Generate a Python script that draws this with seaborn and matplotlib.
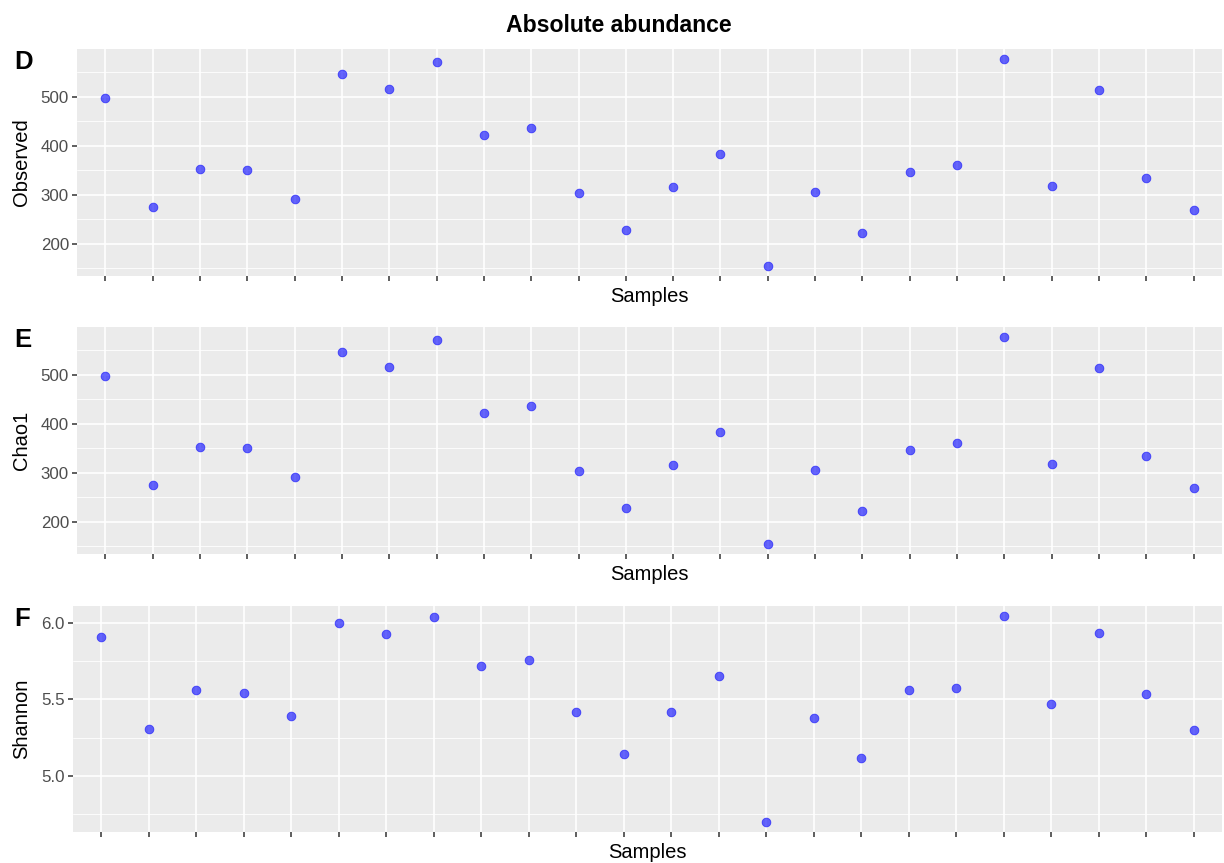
import numpy as np
import pandas as pd
import matplotlib
matplotlib.use("Agg")
import matplotlib.pyplot as plt
import seaborn as sns
from matplotlib.ticker import MultipleLocator

samples = [f"S{i:02d}" for i in range(1, 25)]

observed = [498, 274, 352, 350, 291, 546, 516, 571, 422, 435, 304, 227,
            316, 382, 155, 306, 222, 347, 361, 576, 318, 513, 334, 268]
chao1 = [498, 274, 352, 350, 291, 546, 516, 571, 422, 435, 304, 227,
         316, 382, 155, 306, 222, 347, 361, 576, 318, 513, 334, 268]
shannon = [5.910, 5.306, 5.561, 5.540, 5.392, 6.000, 5.924, 6.035, 5.720, 5.759,
           5.414, 5.141, 5.414, 5.653, 4.700, 5.375, 5.117, 5.560, 5.571, 6.043,
           5.470, 5.932, 5.535, 5.297]

panels = [
    ("D", "Observed", observed, [200, 300, 400, 500], ["200", "300", "400", "500"], 50),
    ("E", "Chao1", chao1, [200, 300, 400, 500], ["200", "300", "400", "500"], 50),
    ("F", "Shannon", shannon, [5.0, 5.5, 6.0], ["5.0", "5.5", "6.0"], 0.25),
]

sns.set_theme(style="darkgrid")
plt.rcParams["font.family"] = ["Liberation Sans", "DejaVu Sans"]
plt.rcParams["text.color"] = "black"

W, H = 1224, 863
fig = plt.figure(figsize=(W / 100, H / 100), dpi=100)

# panel boxes in pixels: left, top, right, bottom
boxes = [
    (77, 49, 1222, 276),
    (77, 327, 1222, 554),
    (73, 606, 1222, 832),
]

for (letter, ylab, vals, yt, ytl, minor), (l, t, r, b) in zip(panels, boxes):
    ax = fig.add_axes([l / W, 1 - b / H, (r - l) / W, (b - t) / H])
    df = pd.DataFrame({"Samples": samples, "value": vals})
    sns.stripplot(data=df, x="Samples", y="value", ax=ax, jitter=False,
                  color="#0000FF", alpha=0.6, size=6.3, linewidth=0.6,
                  edgecolor="#0000FF", zorder=3)
    ax.set_facecolor("#EBEBEB")
    for s in ax.spines.values():
        s.set_visible(False)
    lo, hi = min(vals), max(vals)
    pad = (hi - lo) * 0.05
    ax.set_ylim(lo - pad, hi + pad)
    ax.set_xlim(-0.6, len(samples) - 0.4)
    ax.set_yticks(yt)
    ax.set_yticklabels(ytl)
    ax.yaxis.set_minor_locator(MultipleLocator(minor))
    ax.set_xticks(range(len(samples)))
    ax.set_xticklabels([])
    ax.grid(which="major", color="white", linewidth=1.2, zorder=0)
    ax.grid(which="minor", axis="y", color="white", linewidth=0.6, zorder=0)
    ax.grid(which="minor", axis="x", visible=False)
    ax.set_axisbelow(True)
    ax.tick_params(axis="both", which="major", length=3.8, width=1.1,
                   color="#333333", labelsize=12.2, labelcolor="#4D4D4D", pad=2,
                   bottom=True, left=True)
    ax.tick_params(axis="both", which="minor", length=0)
    ax.set_ylabel(ylab, fontsize=14.5, color="black")
    ax.yaxis.set_label_coords((22 - l) / (r - l), 0.5)
    ax.yaxis.label.set_verticalalignment("center")
    ax.set_xlabel("Samples", fontsize=14.5, color="black", labelpad=2)
    fig.text(14 / W, 1 - (t + 1) / H, letter, fontsize=18.5,
             fontweight="bold", ha="left", va="top", color="black")

fig.text(619 / W, 1 - 25 / H, "Absolute abundance", ha="center", va="center",
         fontsize=16.6, fontweight="bold", color="black")

fig.savefig("out.png", dpi=100)
